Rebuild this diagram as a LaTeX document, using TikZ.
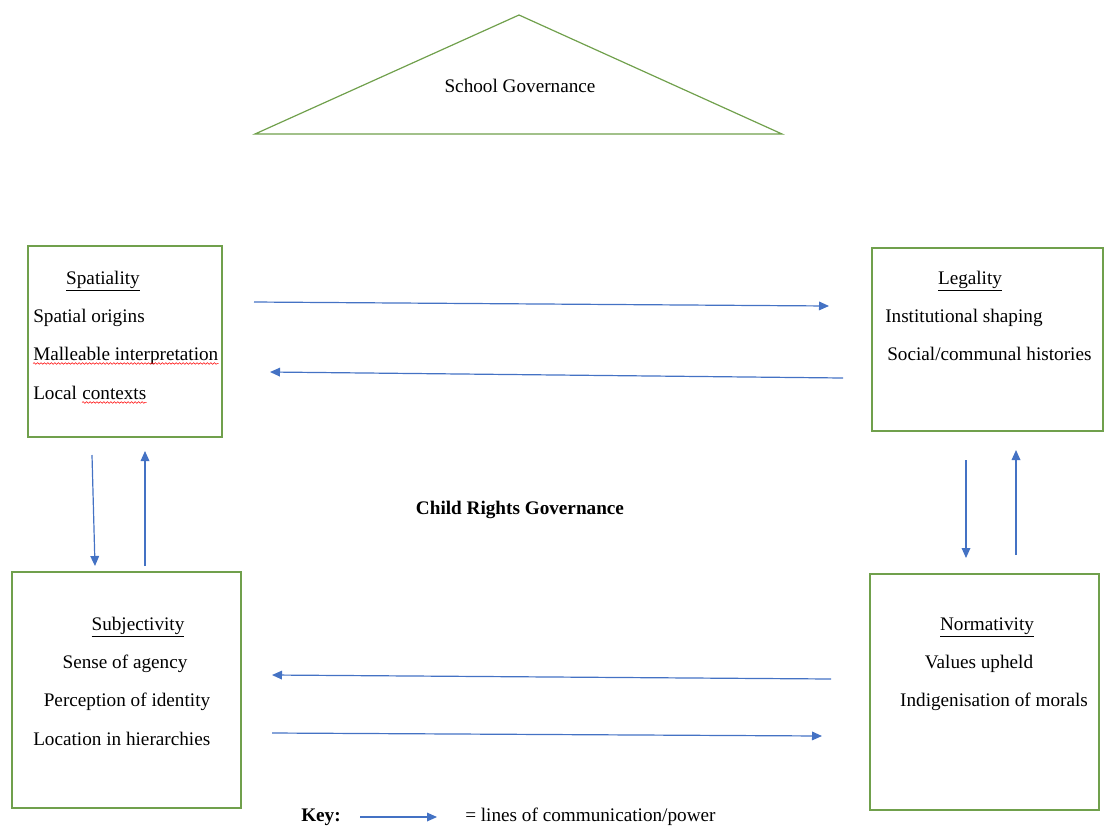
\documentclass[tikz,border=0pt]{standalone}
\usepackage{fontspec}
\setmainfont{Liberation Serif}
\usetikzlibrary{arrows.meta,decorations.pathmorphing}
\definecolor{boxgreen}{RGB}{112,160,76}
\definecolor{arrowblue}{RGB}{68,114,196}
\begin{document}
\begin{tikzpicture}[x=0.75pt,y=-0.75pt,
  box/.style={draw=boxgreen, line width=0.9pt, anchor=north west, inner sep=0pt, outer sep=0pt},
  txt/.style={anchor=base west, inner sep=0pt, font=\fontsize{14.4}{17}\selectfont},
  ctxt/.style={anchor=base, inner sep=0pt, font=\fontsize{14.4}{17}\selectfont},
  flow/.style={draw=arrowblue, line width=0.9pt, -{Triangle[length=7.5pt,width=6.5pt]}},
  spell/.style={draw=red, line width=0.4pt, decorate, decoration={snake, amplitude=0.6pt, segment length=2.6pt}}]
\useasboundingbox (0,0) rectangle (1110,826);

% School governance triangle
\coordinate (apex) at (519,15);
\coordinate (bl) at (255,134);
\coordinate (br) at (782,134);
\draw[draw=boxgreen, line width=0.9pt] (bl) -- (apex) -- (br) -- cycle;
\node[ctxt] (school) at (520,92) {School Governance};

% Boxes (sizes in px * 0.75)
\node[box, minimum width=145.5pt, minimum height=143.25pt] (spbox) at (28,246) {};
\node[box, minimum width=173.25pt, minimum height=137.25pt] (lgbox) at (872,248) {};
\node[box, minimum width=171.75pt, minimum height=177pt] (sbbox) at (12,572) {};
\node[box, minimum width=171.75pt, minimum height=177pt] (nmbox) at (870,574) {};

% Spatiality
\node[ctxt] (sp0) at (103,284) {\underline{Spatiality}};
\node[txt] (sp1) at (33,322) {Spatial origins};
\node[txt] (sp2) at (33,360) {Malleable interpretation};
\node[txt] (sp3) at (33,399) {Local};
\node[txt, xshift=3.6pt] (sp3b) at (sp3.base east) {contexts};
\draw[spell] ([yshift=-2.6pt]sp2.base west) -- ([yshift=-2.6pt]sp2.base east);
\draw[spell] ([yshift=-2.6pt]sp3b.base west) -- ([yshift=-2.6pt]sp3b.base east);

% Legality
\node[ctxt] (lg0) at (970,284) {\underline{Legality}};
\node[txt] (lg1) at (885,322) {Institutional shaping};
\node[txt] (lg2) at (887,360) {Social/communal histories};

% Subjectivity
\node[ctxt] (sb0) at (138,630) {\underline{Subjectivity}};
\node[ctxt] (sb1) at (125,668) {Sense of agency};
\node[ctxt] (sb2) at (127,706) {Perception of identity};
\node[txt] (sb3) at (33,745) {Location in hierarchies};

% Normativity
\node[ctxt] (nm0) at (987,630) {\underline{Normativity}};
\node[ctxt] (nm1) at (979,668) {Values upheld};
\node[ctxt] (nm2) at (994,706) {Indigenisation of morals};

% Centre label
\node[ctxt, font=\fontsize{14.4}{17}\selectfont\bfseries] (crg) at (520,514) {Child Rights Governance};

% Connector end points
\coordinate (a1s) at (254,302); \coordinate (a1e) at (829,306);
\coordinate (a2s) at (843,378); \coordinate (a2e) at (270,372);
\coordinate (a3s) at (92,455);  \coordinate (a3e) at (95,566);
\coordinate (a4s) at (145,566); \coordinate (a4e) at (145,451);
\coordinate (a5s) at (966,460); \coordinate (a5e) at (966,558);
\coordinate (a6s) at (1016,555); \coordinate (a6e) at (1016,450);
\coordinate (a7s) at (831,679); \coordinate (a7e) at (272,675);
\coordinate (a8s) at (272,733); \coordinate (a8e) at (822,736);
\draw[flow] (a1s) -- (a1e);
\draw[flow] (a2s) -- (a2e);
\draw[flow] (a3s) -- (a3e);
\draw[flow] (a4s) -- (a4e);
\draw[flow] (a5s) -- (a5e);
\draw[flow] (a6s) -- (a6e);
\draw[flow] (a7s) -- (a7e);
\draw[flow] (a8s) -- (a8e);

% Key
\node[txt, font=\fontsize{14.4}{17}\selectfont\bfseries] (key) at (301,821) {Key:};
\coordinate (ks) at (360,817); \coordinate (ke) at (437,817);
\draw[flow] (ks) -- (ke);
\node[txt] (keytxt) at (465,821) {= lines of communication/power};
\end{tikzpicture}
\end{document}
